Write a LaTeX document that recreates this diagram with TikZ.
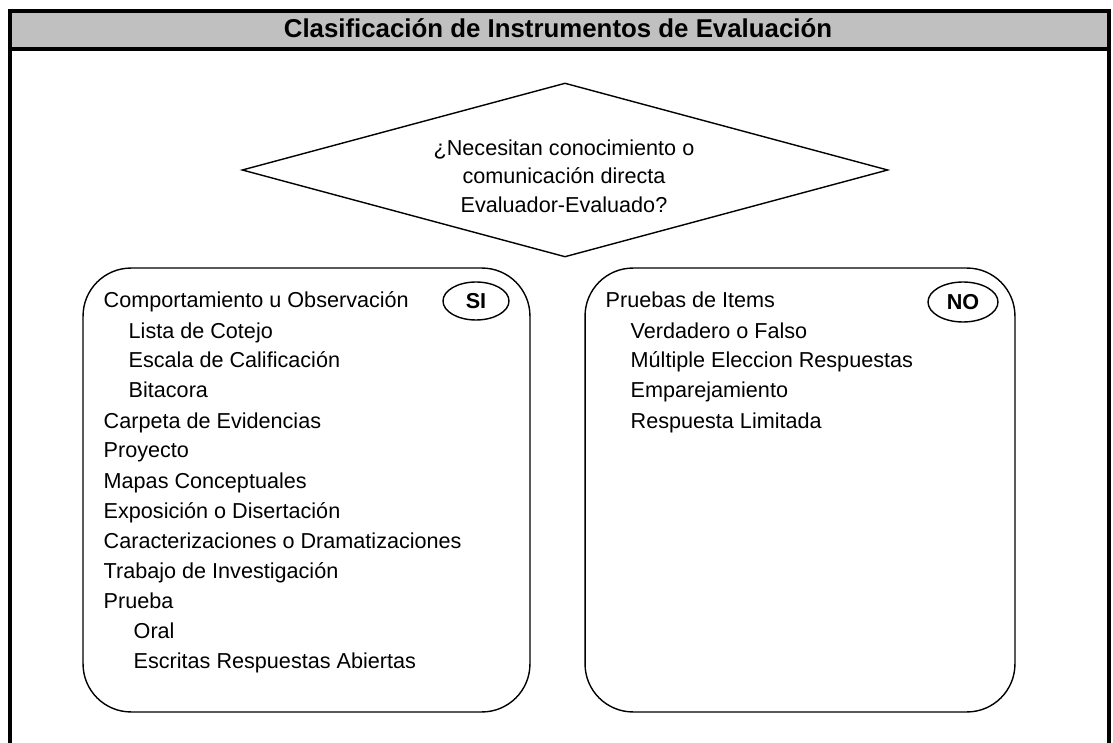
\documentclass[tikz,border=0pt]{standalone}
\usepackage{fontspec}
\setmainfont{Liberation Sans}
\usepackage{xcolor}
\usetikzlibrary{shapes.geometric}
\usetikzlibrary{positioning}
\definecolor{barragris}{RGB}{192,192,192}
\tikzset{clasif/.style={x=0.02cm, y=-0.02cm, line width=0.8pt,
font=\fontsize{12.3}{16}\selectfont},
marco/.style={line width=0.08cm},
caja/.style={draw, rounded corners=0.96cm, minimum height=8.88cm, inner sep=0},
item/.style={anchor=base west, inner sep=0},
etiqueta/.style={draw, ellipse, inner sep=0, font=\bfseries\fontsize{12.3}{16}\selectfont}}

\begin{document}
\begin{tikzpicture}[clasif, rombo/.style={draw, diamond, aspect=3.71, inner sep=0, minimum width=12.92cm, minimum height=3.48cm}]
	\useasboundingbox (0,0) rectangle (1113,743);
	\fill[barragris] (10,11.5) rectangle (1109,49.5);
	\draw[marco] (10,760) |- (1109,11.5) -- (1109,760);
	\draw[marco] (10,49.5) -- (1109,49.5);
	\node[anchor=base, inner sep=0, font=\bfseries\fontsize{14.7}{18}\selectfont] (titulo) at (558,38) {Clasificación de Instrumentos de Evaluación};

	\node[rombo] (rombo) at (565,170) {};
	\node[align=center, inner sep=0, font=\fontsize{12.3}{16.2}\selectfont] (pregunta) at (564,176) {¿Necesitan conocimiento o\\comunicación directa\\Evaluador-Evaluado?};

	\node[caja, minimum width=8.94cm] (cajasi) at (306.5,490) {};
	\node[caja, minimum width=8.6cm] (cajano) at (800,490) {};
	\node[etiqueta, minimum width=1.32cm, minimum height=0.76cm] (si) at (476,301) {SI};
	\node[etiqueta, minimum width=1.4cm, minimum height=0.8cm] (no) at (963,302) {NO};

	\foreach \sangria/\texto [count=\i] in {0/Comportamiento u Observación, 25/Lista de Cotejo,
		25/Escala de Calificación, 25/Bitacora, 0/Carpeta de Evidencias, 0/Proyecto,
		0/Mapas Conceptuales, 0/Exposición o Disertación, 0/Caracterizaciones o Dramatizaciones,
		0/Trabajo de Investigación, 0/Prueba, 30/Oral, 30/Escritas Respuestas Abiertas}
		\node[item] (si\i) at (103+\sangria,278+30*\i) {\texto};

	\foreach \sangria/\texto [count=\i] in {0/Pruebas de Items, 25/Verdadero o Falso,
		25/Múltiple Eleccion Respuestas, 25/Emparejamiento, 25/Respuesta Limitada}
		\node[item] (no\i) at (605+\sangria,278+30*\i) {\texto};
\end{tikzpicture}
\end{document}
